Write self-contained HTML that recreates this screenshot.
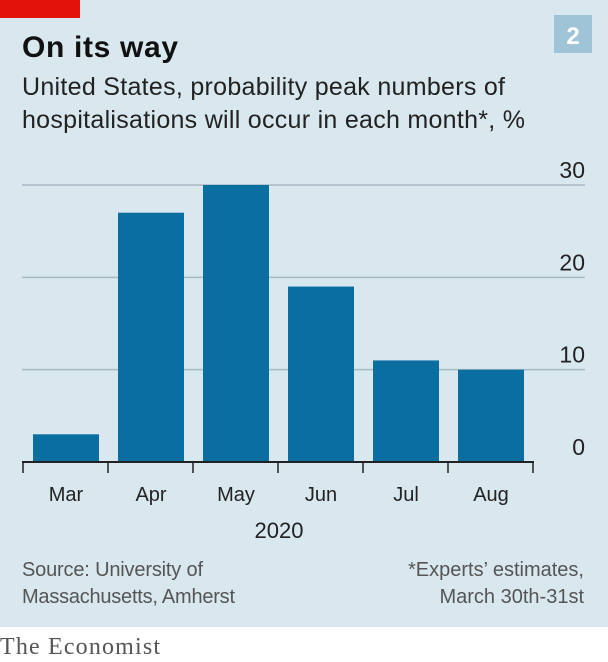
<!DOCTYPE html>
<html><head><meta charset="utf-8"><style>
body{margin:0;width:608px;height:662px;background:#fff;font-family:"Liberation Sans",sans-serif;overflow:hidden}
#bg{position:absolute;left:0;top:0;width:608px;height:627px;background:#d9e7ef}
</style></head><body>
<div id="bg"></div>
<svg width="608" height="662" style="position:absolute;left:0;top:0">
<rect x="0" y="0" width="80" height="18" fill="#e3120b"/>
<text x="22" y="57" font-size="30" font-weight="bold" fill="#111" textLength="156">On its way</text>
<rect x="554" y="15" width="38" height="38" fill="#9fc4d8"/>
<text x="573" y="44" font-size="24" font-weight="bold" fill="#fff" text-anchor="middle">2</text>
<text x="22" y="95" font-size="25" fill="#222" textLength="483">United States, probability peak numbers of</text>
<text x="22" y="128" font-size="25" fill="#222" textLength="503">hospitalisations will occur in each month*, %</text>
<g id="grid"></g><g id="bars"></g><g id="xaxis"></g>
<text x="279" y="538" font-size="22" fill="#222" text-anchor="middle">2020</text>
<text x="22" y="576" font-size="20" fill="#555" textLength="181">Source: University of</text>
<text x="22" y="603" font-size="20" fill="#555" textLength="213">Massachusetts, Amherst</text>
<text x="584" y="576" font-size="20" fill="#555" text-anchor="end">*Experts’ estimates,</text>
<text x="584" y="603" font-size="20" fill="#555" text-anchor="end">March 30th-31st</text>
<text x="0" y="654" font-size="24" fill="#555" font-family="Liberation Serif,serif" textLength="160">The Economist</text>
</svg>
<script>
const categories=["Mar","Apr","May","Jun","Jul","Aug"];
const values=[3,27,30,19,11,10];
const ticks=[0,10,20,30];
const NS="http://www.w3.org/2000/svg";
const y=v=>462-v*(462-185)/30;
const x0=i=>23+i*85;
function mk(t,a,p){const e=document.createElementNS(NS,t);for(const k in a)e.setAttribute(k,a[k]);p.appendChild(e);return e;}
const g=document.getElementById('grid'),b=document.getElementById('bars'),xa=document.getElementById('xaxis');
ticks.forEach(t=>{
 if(t>0){const l=mk('line',{x1:22,x2:585,y1:y(t),y2:y(t),stroke:'#a9b9c3','stroke-width':1.5},g);
 
 }
 const tx=mk('text',{x:585,y:y(t)-7,'font-size':23,fill:'#222','text-anchor':'end'},g);tx.textContent=t;
 
 
});
categories.forEach((c,i)=>{
 const r=mk('rect',{x:x0(i)+10,y:y(values[i]),width:66,height:462-y(values[i]),fill:'#0b6ea1'},b);
 
 
 const t=mk('text',{x:x0(i)+43,y:501,'font-size':20,fill:'#222','text-anchor':'middle'},xa);t.textContent=c;
 
 
});
for(let i=0;i<=categories.length;i++){const tk=mk('line',{x1:x0(i),x2:x0(i),y1:462,y2:473,stroke:'#222','stroke-width':1.5},xa);
 
 }
const ax=mk('line',{x1:22,x2:x0(categories.length)+1,y1:462,y2:462,stroke:'#222','stroke-width':2},xa);


</script>
</body></html>
